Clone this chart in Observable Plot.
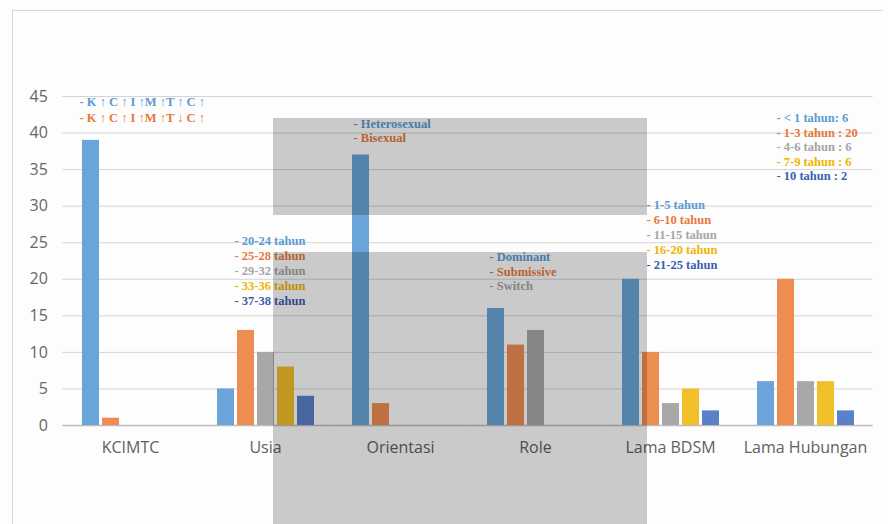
<!DOCTYPE html>
<html>
<head>
<meta charset="utf-8">
<script src="https://cdn.jsdelivr.net/npm/d3@7"></script>
<script src="https://cdn.jsdelivr.net/npm/@observablehq/plot@0.6"></script>
<style>
  html, body { margin: 0; padding: 0; background: #ffffff; }
  #wrap { position: relative; width: 888px; height: 524px; overflow: hidden; background: #fdfdfd; }
  .wm { position: absolute; background: rgba(0,0,0,0.2); pointer-events: none; }
  .frame { position: absolute; left: 12px; top: 10px; width: 870px; height: 520px; border-left: 1px solid #d6d6d6; border-top: 1px solid #d6d6d6; pointer-events: none; }
</style>
</head>
<body>
<div id="wrap"></div>
<script>
// ---- data ----
const categories = ["KCIMTC", "Usia", "Orientasi", "Role", "Lama BDSM", "Lama Hubungan"];
const seriesKeys = ["s1", "s2", "s3", "s4", "s5"];
const series1 = [39, 5, 37, 16, 20, 6];
const series2 = [1, 13, 3, 11, 10, 20];
const series3 = [null, 10, null, 13, 3, 6];
const series4 = [null, 8, null, null, 5, 6];
const series5 = [null, 4, null, null, 2, 2];
const yTicks = [0, 5, 10, 15, 20, 25, 30, 35, 40, 45];

const notesKCIMTC = ["- K \u2191 C \u2191 I \u2191M \u2191T \u2191 C \u2191", "- K \u2191 C \u2191 I \u2191M \u2191T \u2193 C \u2191"];
const notesUsia = ["- 20-24 tahun", "- 25-28 tahun", "- 29-32 tahun", "- 33-36 tahun", "- 37-38 tahun"];
const notesOrientasi = ["- Heterosexual", "- Bisexual"];
const notesRole = ["- Dominant", "- Submissive", "- Switch"];
const notesBDSM = ["- 1-5 tahun", "- 6-10 tahun", "- 11-15 tahun", "- 16-20 tahun", "- 21-25 tahun"];
const notesHubungan = ["- < 1 tahun: 6", "- 1-3 tahun : 20", "- 4-6 tahun : 6", "- 7-9 tahun : 6", "- 10 tahun : 2"];

// ---- styles ----
const barColors = ["#6aa4d8", "#ee8d52", "#a8a8a8", "#f0bf2a", "#5a80c8"];
const textColors = ["#5b9bd5", "#e57a3a", "#a5a5a5", "#efb500", "#3b5fb0"];

const W = 888, H = 524, mL = 60, mR = 14, mT = 96, mB = 99;
const fxPadInner = 0.245, fxPadOuter = 0.1225;
// half of the gap between facets, so grid rules can tile across the gaps
const fxBand = d3.scaleBand(categories, [mL, W - mR]).paddingInner(fxPadInner).paddingOuter(fxPadOuter);
const halfGap = (fxBand.step() - fxBand.bandwidth()) / 2;
const outerGap = fxBand(categories[0]) - mL;

const allSeries = [series1, series2, series3, series4, series5];
const rows = [];
categories.forEach((cat, i) => {
  allSeries.forEach((vals, j) => {
    if (vals[i] != null) rows.push({cat, series: seriesKeys[j], value: vals[i]});
  });
});

// annotation blocks: category, anchor y (data units) of first line, dx from facet left, line step (px)
const noteBlocks = [
  {cat: "KCIMTC", y: 44.3, dx: 0, step: 16, size: 12.5, lines: notesKCIMTC},
  {cat: "Usia", y: 25.3, dx: 20, step: 15, size: 12.5, lines: notesUsia},
  {cat: "Orientasi", y: 41.2, dx: 4, step: 14, size: 12.5, lines: notesOrientasi},
  {cat: "Role", y: 23.0, dx: 5, step: 14.5, size: 12.5, lines: notesRole},
  {cat: "Lama BDSM", y: 30.1, dx: 27, step: 15, size: 12.5, lines: notesBDSM},
  {cat: "Lama Hubungan", y: 42.0, dx: 22, step: 14.5, size: 12.5, lines: notesHubungan}
];

const noteMarks = [];
noteBlocks.forEach(b => {
  b.lines.forEach((line, k) => {
    noteMarks.push(Plot.text([line], {
      fx: () => b.cat,
      y: () => b.y,
      text: d => d,
      frameAnchor: "left",
      textAnchor: "start",
      dx: b.dx,
      dy: k * b.step,
      fill: textColors[k],
      fontFamily: "Liberation Serif",
      fontWeight: "bold",
      fontSize: b.size
    }));
  });
});

const chart = Plot.plot({
  width: W,
  height: H,
  marginLeft: mL,
  marginRight: mR,
  marginTop: mT,
  marginBottom: mB,
  style: {fontFamily: "Open Sans", fontSize: "16px", color: "#616161", background: "transparent", overflow: "visible"},
  fx: {domain: categories, paddingInner: fxPadInner, paddingOuter: fxPadOuter, axis: "bottom", tickSize: 0, tickPadding: 16, label: null},
  x: {domain: seriesKeys, paddingInner: 0.17, paddingOuter: 0.085, axis: null},
  y: {domain: [0, 45], axis: null},
  color: {domain: seriesKeys, range: barColors},
  marks: [
    Plot.ruleY(yTicks, {y: d => d, insetLeft: -halfGap, insetRight: -halfGap, stroke: d => d === 0 ? "#bdbdbd" : "#d4d4d4", strokeWidth: d => d === 0 ? 1.5 : 1}),
    Plot.text(yTicks, {fx: () => categories[0], y: d => d, text: d => String(d), frameAnchor: "left", textAnchor: "end", dx: -15 - outerGap, fill: "#666666", fontSize: 16}),
    Plot.barY(rows, {fx: "cat", x: "series", y: "value", fill: "series"}),
    ...noteMarks
  ]
});

const wrap = document.getElementById("wrap");
const frame = document.createElement("div");
frame.className = "frame";
wrap.appendChild(frame);
wrap.appendChild(chart);
chart.style.position = "relative";
const wm1 = document.createElement("div");
wm1.className = "wm";
Object.assign(wm1.style, {left: "273px", top: "118px", width: "374px", height: "97px"});
const wm2 = document.createElement("div");
wm2.className = "wm";
Object.assign(wm2.style, {left: "273px", top: "252px", width: "374px", height: "272px"});
wrap.appendChild(wm1);
wrap.appendChild(wm2);
</script>
</body>
</html>
